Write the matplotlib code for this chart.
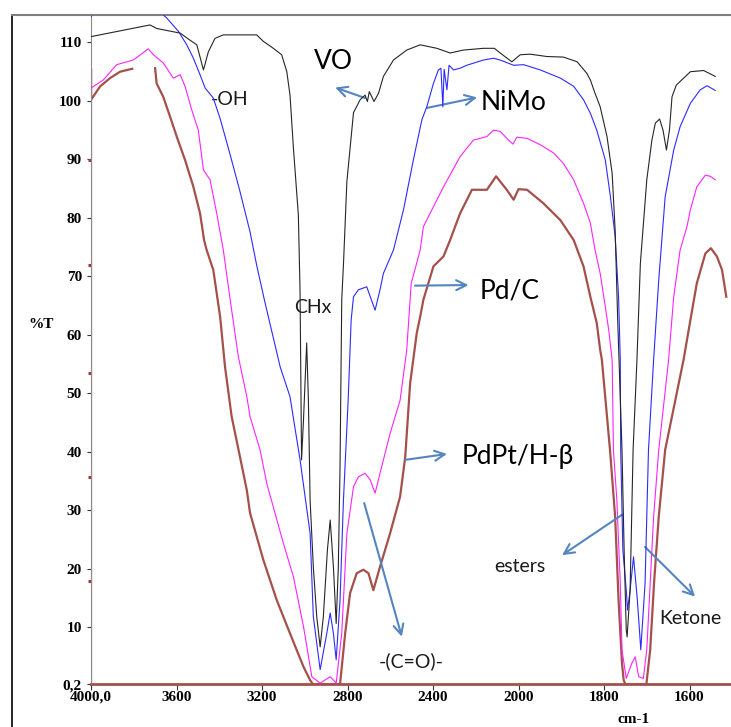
import numpy as np
import matplotlib
matplotlib.use("Agg")
import matplotlib.pyplot as plt
from matplotlib.lines import Line2D
from matplotlib.ticker import FixedLocator

# ---------------- spectra (wavenumber cm-1, %T) ----------------
vo_wn = [4000, 3724, 3693, 3583, 3537, 3505, 3474, 3451, 3420, 3381, 3303, 3225,
         3194, 3147, 3108, 3084, 3069, 3053, 3030, 3022, 3015, 3006, 2991, 2983,
         2975, 2960, 2944, 2928, 2913, 2894, 2881, 2866, 2853, 2843, 2835, 2827,
         2819, 2803, 2772, 2741, 2718, 2707, 2698, 2676, 2655, 2632, 2585, 2523,
         2460, 2382, 2320, 2258, 2164, 2113, 2086, 2031, 1996, 1973, 1934, 1895,
         1863, 1840, 1832, 1821, 1809, 1793, 1781, 1774, 1768, 1758, 1753, 1748,
         1746, 1739, 1732, 1723, 1715, 1700, 1688, 1680, 1670, 1662, 1654, 1647,
         1641, 1631, 1598, 1567, 1540]
vo_t = [111.0, 113.0, 112.4, 111.6, 110.4, 109.6, 105.3, 108.4, 110.7, 111.3, 111.3, 111.3,
        110.2, 109.0, 107.9, 105.0, 101.0, 91.9, 80.5, 67.4, 38.6, 45.4, 58.6, 48.8,
        31.7, 20.3, 11.8, 6.6, 11.8, 23.2, 28.3, 20.3, 10.6, 20.3, 37.4, 66.0,
        72.0, 86.2, 98.0, 100.2, 101.0, 99.9, 101.6, 99.9, 101.3, 104.2, 107.0, 108.7,
        109.6, 109.0, 108.2, 108.7, 109.0, 109.0, 108.2, 106.7, 107.9, 108.0, 107.6, 107.5,
        106.7, 104.7, 103.6, 101.3, 99.0, 93.9, 87.6, 77.9, 62.5, 40.3, 23.2, 9.5,
        8.3, 16.3, 40.3, 55.7, 72.2, 86.5, 93.3, 96.2, 96.9, 95.0, 91.6, 95.0,
        100.7, 102.7, 105.0, 105.2, 104.2]

nimo_wn = [4000, 3981, 3817, 3677, 3646, 3591, 3552, 3521, 3490, 3466, 3428, 3396,
           3349, 3303, 3256, 3225, 3186, 3115, 3069, 3022, 2975, 2960, 2928, 2897,
           2881, 2866, 2853, 2835, 2819, 2797, 2783, 2772, 2749, 2710, 2671, 2648,
           2632, 2585, 2538, 2492, 2452, 2429, 2398, 2375, 2363, 2354, 2348, 2335,
           2325, 2304, 2273, 2242, 2164, 2117, 2086, 2023, 1988, 1949, 1902, 1871,
           1848, 1832, 1817, 1797, 1785, 1774, 1766, 1762, 1761, 1756, 1748, 1745,
           1739, 1731, 1722, 1714, 1704, 1696, 1684, 1672, 1657, 1637, 1622, 1598,
           1575, 1559, 1540]
nimo_t = [114.4, 115.5, 117.0, 115.2, 114.2, 111.9, 109.6, 107.3, 104.5, 102.2, 100.5, 97.0,
          90.8, 84.5, 77.6, 71.9, 65.5, 54.5, 49.4, 38.6, 26.0, 11.8, 2.7, 8.9,
          12.4, 8.9, 4.4, 14.6, 31.7, 48.8, 62.5, 66.5, 67.7, 68.2, 64.2, 67.7,
          70.5, 74.5, 81.4, 89.9, 96.8, 99.0, 103.0, 105.3, 105.6, 99.0, 105.4, 101.9,
          106.1, 105.3, 105.6, 106.1, 107.0, 107.3, 107.0, 106.1, 106.2, 105.3, 103.9, 102.5,
          100.2, 97.9, 95.0, 89.9, 83.6, 76.8, 66.5, 55.7, 40.3, 23.2, 16.3, 12.9,
          16.3, 22.0, 14.6, 6.1, 17.5, 40.3, 55.7, 69.4, 83.6, 91.6, 95.6, 99.6,
          101.9, 102.6, 101.8]

pdc_wn = [4000, 3942, 3880, 3802, 3732, 3708, 3662, 3615, 3583, 3560, 3529, 3498,
          3474, 3443, 3412, 3381, 3349, 3311, 3271, 3256, 3209, 3178, 3100, 3053,
          3006, 2967, 2928, 2881, 2853, 2827, 2803, 2772, 2749, 2718, 2694, 2671,
          2648, 2601, 2554, 2523, 2502, 2460, 2445, 2351, 2273, 2211, 2148, 2117,
          2086, 2047, 2026, 2008, 1980, 1949, 1918, 1895, 1871, 1848, 1832, 1821,
          1809, 1797, 1789, 1781, 1778, 1770, 1762, 1758, 1748, 1735, 1727, 1719,
          1708, 1700, 1692, 1684, 1672, 1649, 1637, 1622, 1606, 1598, 1583, 1563,
          1551, 1540]
pdc_t = [102.2, 103.6, 106.2, 107.0, 108.9, 107.9, 106.5, 103.9, 104.5, 102.5, 98.5, 95.0,
         88.2, 86.5, 80.8, 74.5, 66.0, 56.3, 49.4, 46.0, 40.3, 34.6, 24.3, 18.6,
         10.1, 1.5, 0.4, 1.5, 0.4, 8.9, 26.0, 34.0, 35.7, 36.3, 35.2, 32.9,
         36.3, 43.1, 48.8, 57.4, 68.8, 74.5, 78.5, 85.3, 90.5, 93.3, 93.9, 95.0,
         94.8, 93.3, 92.6, 93.8, 93.6, 92.5, 91.1, 89.3, 86.5, 82.5, 79.1, 74.5,
         70.5, 64.8, 60.8, 55.7, 40.3, 31.7, 17.5, 6.1, 1.2, 3.8, 4.9, 1.5,
         1.2, 6.1, 17.5, 28.9, 40.3, 55.7, 66.5, 74.5, 78.5, 81.4, 85.3, 87.3,
         87.1, 86.5]

# PdPt/H-beta trace; starts with the vertical pen stroke at 4000 and has a gap near 3750
pdpt_wn = [4000, 4000, 4000, 3957, 3911, 3864, 3807, np.nan, 3700, 3693, 3662, 3630,
           3599, 3560, 3521, 3490, 3471, 3459, 3428, 3396, 3373, 3342, 3303, 3271,
           3256, 3194, 3131, 3069, 3006, 2975, 2961, 2835, 2811, 2788, 2757, 2726,
           2702, 2679, 2648, 2601, 2554, 2530, 2507, 2476, 2460, 2445, 2398, 2351,
           2320, 2273, 2218, 2148, 2105, 2055, 2023, 2000, 1980, 1942, 1902, 1871,
           1848, 1832, 1817, 1809, 1805, 1786, 1774, 1766, 1758, 1754, 1750, 1701,
           1692, 1683, 1672, 1657, 1614, 1598, 1583, 1563, 1550, 1536, 1524, 1514]
pdpt_t = [0.2, 105.5, 100.2, 102.5, 103.9, 105.0, 105.5, np.nan, 105.6, 103.0, 100.7, 97.3,
          93.9, 89.9, 85.3, 80.8, 76.2, 74.5, 71.1, 63.1, 54.5, 46.0, 39.1, 33.4,
          29.5, 21.5, 14.6, 8.9, 3.2, 0.9, 0.2, 0.2, 8.9, 15.8, 19.2, 19.8,
          19.2, 16.3, 20.3, 26.0, 32.3, 39.1, 51.7, 60.3, 63.1, 66.0, 71.7, 73.4,
          76.2, 80.8, 84.8, 84.8, 87.1, 84.8, 83.1, 84.9, 84.8, 82.5, 79.6, 76.2,
          71.7, 66.5, 62.0, 57.4, 55.7, 40.3, 28.9, 14.6, 3.8, 0.9, 0.2, 0.2,
          6.1, 17.5, 28.9, 40.3, 55.7, 62.5, 68.8, 73.9, 74.8, 73.4, 71.1, 66.5]

# axis ticks and labels
x_ticks = [4000, 3600, 3200, 2800, 2400, 2000, 1800, 1600]
x_labels = ["4000,0", "3600", "3200", "2800", "2400", "2000", "1800", "1600"]
y_ticks = [0.2, 10, 20, 30, 40, 50, 60, 70, 80, 90, 100, 110]
y_labels = ["0,2", "10", "20", "30", "40", "50", "60", "70", "80", "90", "100", "110"]
y_minor_marks = [17.8, 35.7, 53.5, 71.9, 89.9]

C_VO = "#262626"
C_NIMO = "#2b2bff"
C_PDC = "#ff22ff"
C_PDPT = "#a4504b"
C_ARROW = "#5585c0"

W, H = 731, 727
fig = plt.figure(figsize=(W / 100, H / 100), dpi=100)
fig.patch.set_facecolor("white")

left_px, right_px, top_px, bottom_px = 91, 731, 15, 684.3
ax = fig.add_axes([left_px / W, 1 - bottom_px / H,
                   (right_px - left_px) / W, (bottom_px - top_px) / H])


# instrument chart: scale doubles below 2000 cm-1
def fwd(x):
    x = np.asarray(x, dtype=float)
    return np.where(x >= 2000, x, 2 * x - 2000)


def inv(u):
    u = np.asarray(u, dtype=float)
    return np.where(u >= 2000, u, (u + 2000) / 2)


ax.set_xscale("function", functions=(fwd, inv))
ax.set_xlim(4000, 1503)
ax.set_ylim(0.2, 114.7)

ax.plot(pdpt_wn, pdpt_t, color=C_PDPT, lw=1.6, solid_joinstyle="round", zorder=2)
ax.plot(pdc_wn, pdc_t, color=C_PDC, lw=0.8, zorder=3)
ax.plot(nimo_wn, nimo_t, color=C_NIMO, lw=0.8, zorder=4)
ax.plot(vo_wn, vo_t, color=C_VO, lw=0.8, zorder=5)

# spines
ax.spines["right"].set_visible(False)
ax.spines["top"].set_color("#7f7f7f")
ax.spines["top"].set_linewidth(1.5)
ax.spines["left"].set_color("#8a8a8a")
ax.spines["left"].set_linewidth(0.8)
ax.spines["bottom"].set_color(C_PDPT)
ax.spines["bottom"].set_linewidth(2.0)

ax.set_xticks(x_ticks)
ax.set_xticklabels(x_labels)
ax.set_yticks(y_ticks)
ax.set_yticklabels(y_labels)
ax.xaxis.set_minor_locator(FixedLocator([]))
ax.yaxis.set_minor_locator(FixedLocator(y_minor_marks))
ax.tick_params(axis="both", which="major", direction="out", color="#333333",
               width=0.8, labelsize=11)
ax.tick_params(axis="y", which="major", length=3, pad=3.5)
ax.tick_params(axis="x", which="major", length=4, pad=0.5)
ax.tick_params(axis="y", which="minor", length=2.5, width=2.2, color="#a03c38")
for lab in ax.get_xticklabels() + ax.get_yticklabels():
    lab.set_family("Liberation Serif")
    lab.set_fontweight("bold")

fig.text(41 / W, 1 - 324 / H, "%T", family="Liberation Serif", fontweight="bold",
         fontsize=11, ha="center", va="center")
fig.text(634 / W, 1 - 726 / H, "cm-1", family="Liberation Serif", fontweight="bold",
         fontsize=11, ha="center", va="bottom")

# outer frame
fig.add_artist(Line2D([12 / W, 12 / W], [0, 1 - 15 / H], color="black", lw=1.2))
fig.add_artist(Line2D([12 / W, left_px / W], [1 - 15 / H, 1 - 15 / H],
                      color="#7f7f7f", lw=1.5))

# annotations
big = dict(family=["Lato", "DejaVu Sans"], fontsize=19, color="black")
small = dict(family=["Lato", "DejaVu Sans"], fontsize=14, color="#1a1a1a")
arrow = dict(arrowstyle="->", color=C_ARROW, lw=1.5, mutation_scale=18,
             shrinkA=0, shrinkB=0)

ax.annotate("", xy=(2858, 102.3), xytext=(2718, 100.5), arrowprops=arrow)
ax.text(2867, 106.7, "VO", ha="center", va="center", **big)

ax.text(3438, 100.2, "-OH", ha="left", va="center", **small)

ax.annotate("", xy=(2194, 100.6), xytext=(2429, 98.8), arrowprops=arrow)
ax.text(2175, 99.7, "NiMo", ha="left", va="center", **big)

ax.annotate("", xy=(2234, 68.5), xytext=(2484, 68.4), arrowprops=arrow)
ax.text(2180, 67.5, "Pd/C", ha="left", va="center", **big)

ax.annotate("", xy=(2335, 39.6), xytext=(2530, 38.6), arrowprops=arrow)
ax.text(2265, 39.1, "PdPt/H-β", ha="left", va="center", **big)

ax.text(2961, 64.6, "CHx", ha="center", va="center", **small)

ax.annotate("", xy=(2546, 8.35), xytext=(2722, 31.2), arrowprops=arrow)
ax.text(2502, 4.2, "-(C=O)-", ha="center", va="center", **small)

ax.annotate("", xy=(1898, 22.3), xytext=(1758, 29.2), arrowprops=arrow)
ax.text(1998, 20.3, "esters", ha="center", va="center", **small)

ax.annotate("", xy=(1587, 15.2), xytext=(1704, 23.7), arrowprops=arrow)
ax.text(1598, 11.4, "Ketone", ha="center", va="center", **small)

fig.savefig("out.png", dpi=100, facecolor="white")
